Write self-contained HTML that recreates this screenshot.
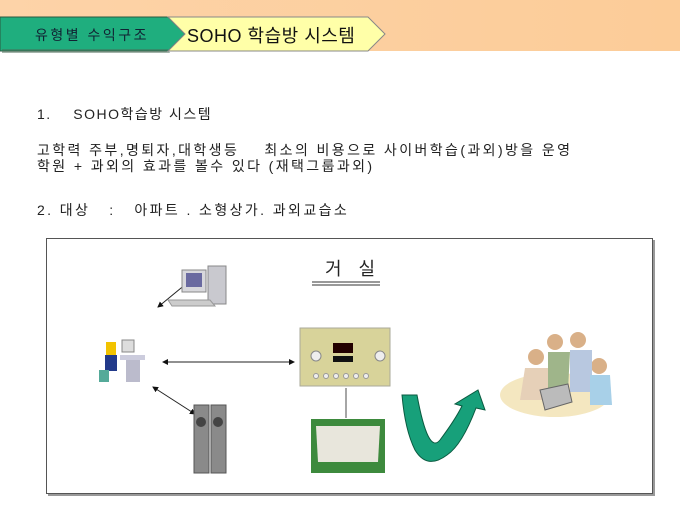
<!DOCTYPE html>
<html><head><meta charset="utf-8">
<style>
html,body{margin:0;padding:0;background:#fff;}
body{width:680px;height:510px;position:relative;overflow:hidden;font-family:"Liberation Sans","Noto Sans CJK KR","NanumGothic",sans-serif;color:#222;}
.t{position:absolute;white-space:nowrap;font-size:14px;letter-spacing:2.4px;}
</style></head><body>
<div style="position:absolute;left:0;top:0;width:680px;height:51px;background:linear-gradient(90deg,#fdd3a8,#fccc98);"></div>
<svg style="position:absolute;left:0;top:0" width="680" height="60">
<polygon points="0,17 168,17 185,34 168,51 0,51" fill="#1fae7e" stroke="#2a5a40" stroke-width="1"/>
<polygon points="2,49 168,49 170,53 2,53" fill="#4a6a55" opacity="0.5"/>
<polygon points="168,17 368,17 385,34 368,51 168,51 185,34" fill="#ffffa8" stroke="#888" stroke-width="1"/>
</svg>
<div class="t" style="left:35px;top:25px;font-size:14px;color:#123;letter-spacing:2.5px;">유형별 수익구조</div>
<div class="t" style="left:187px;top:22px;font-size:18px;color:#111;letter-spacing:0.5px;">SOHO 학습방 시스템</div>

<div class="t" style="left:37px;top:104px;letter-spacing:1.5px;">1.&nbsp;&nbsp;&nbsp; SOHO학습방 시스템</div>
<div class="t" style="left:37px;top:140px;">고학력 주부,명퇴자,대학생등&nbsp;&nbsp;&nbsp; 최소의 비용으로 사이버학습(과외)방을 운영</div>
<div class="t" style="left:37px;top:156px;">학원 + 과외의 효과를 볼수 있다 (재택그룹과외)</div>
<div class="t" style="left:37px;top:200px;">2. 대상&nbsp;&nbsp; :&nbsp;&nbsp; 아파트 . 소형상가. 과외교습소</div>

<div style="position:absolute;left:46px;top:238px;width:605px;height:254px;border:1px solid #555;box-shadow:2px 2px 0 #999;"></div>
<div class="t" style="left:325px;top:255px;font-size:18px;letter-spacing:6px;">거 실</div>
<svg style="position:absolute;left:0;top:0" width="680" height="510">
<defs><marker id="a" markerWidth="6" markerHeight="6" refX="5" refY="3" orient="auto-start-reverse"><path d="M0,0 L6,3 L0,6z" fill="#111"/></marker></defs>
<line x1="312" y1="282" x2="380" y2="282" stroke="#333"/>
<line x1="312" y1="285" x2="380" y2="285" stroke="#333"/>
<line x1="158" y1="307" x2="192" y2="279" stroke="#222" marker-start="url(#a)" marker-end="url(#a)"/>
<line x1="163" y1="362" x2="294" y2="362" stroke="#222" marker-start="url(#a)" marker-end="url(#a)"/>
<line x1="153" y1="387" x2="195" y2="414" stroke="#222" marker-start="url(#a)" marker-end="url(#a)"/>
<line x1="346" y1="388" x2="346" y2="418" stroke="#888" stroke-width="1.5"/>
<rect x="182" y="270" width="24" height="22" fill="#d8d8dc" stroke="#888"/>
<rect x="186" y="273" width="16" height="14" fill="#6a6aa0"/>
<rect x="208" y="266" width="18" height="38" fill="#c9c9cf" stroke="#888"/>
<polygon points="168,300 210,300 215,306 172,306" fill="#ccc" stroke="#999"/>
<circle cx="112" cy="364" r="4" fill="#5a3a20"/>
<rect x="106" y="342" width="10" height="14" fill="#f2c300"/>
<rect x="105" y="355" width="12" height="16" fill="#223a8a"/>
<rect x="122" y="340" width="12" height="12" fill="#ddd" stroke="#888"/>
<rect x="120" y="355" width="25" height="5" fill="#ccd"/>
<rect x="126" y="360" width="14" height="22" fill="#bbc"/>
<rect x="99" y="370" width="10" height="12" fill="#5a9"/>
<rect x="194" y="405" width="15" height="68" fill="#8a8a8a" stroke="#555"/>
<rect x="211" y="405" width="15" height="68" fill="#8a8a8a" stroke="#555"/>
<circle cx="201" cy="422" r="5" fill="#444"/><circle cx="218" cy="422" r="5" fill="#444"/>
<rect x="300" y="328" width="90" height="58" fill="#d8d39a" stroke="#aa9"/>
<rect x="333" y="343" width="20" height="10" fill="#200"/>
<rect x="333" y="356" width="20" height="6" fill="#111"/>
<circle cx="316" cy="356" r="5" fill="#eee" stroke="#888"/><circle cx="380" cy="356" r="5" fill="#eee" stroke="#888"/>
<g fill="#eee" stroke="#999"><circle cx="316" cy="376" r="2.5"/><circle cx="326" cy="376" r="2.5"/><circle cx="336" cy="376" r="2.5"/><circle cx="346" cy="376" r="2.5"/><circle cx="356" cy="376" r="2.5"/><circle cx="366" cy="376" r="2.5"/></g>
<rect x="311" y="419" width="74" height="54" fill="#3d8a3d"/>
<polygon points="316,426 380,426 378,462 318,462" fill="#e8e6dc"/>
<path d="M402,395 L417,395 Q428,455 440,440 Q455,420 462,406 L455,404 L478,390 L485,410 L476,408 Q462,445 447,455 Q427,470 415,450 Q405,430 402,395Z" fill="#17a07a" stroke="#0a5a40"/>
<ellipse cx="555" cy="395" rx="55" ry="22" fill="#f4e7c0"/>
<circle cx="536" cy="357" r="8" fill="#d9b088"/><circle cx="555" cy="342" r="8" fill="#d9b088"/>
<circle cx="578" cy="340" r="8" fill="#d9b088"/><circle cx="599" cy="366" r="8" fill="#d9b088"/>
<path d="M525,368 L548,368 L548,400 L520,400Z" fill="#e6d0b8"/>
<path d="M548,352 L570,352 L568,390 L548,388Z" fill="#9fb58a"/>
<path d="M570,350 L592,350 L592,392 L570,392Z" fill="#b8c8e0"/>
<path d="M590,375 L610,375 L612,405 L590,405Z" fill="#a8d0e8"/>
<polygon points="540,390 568,384 572,402 545,410" fill="#bbb" stroke="#666"/>
</svg>
</body></html>
